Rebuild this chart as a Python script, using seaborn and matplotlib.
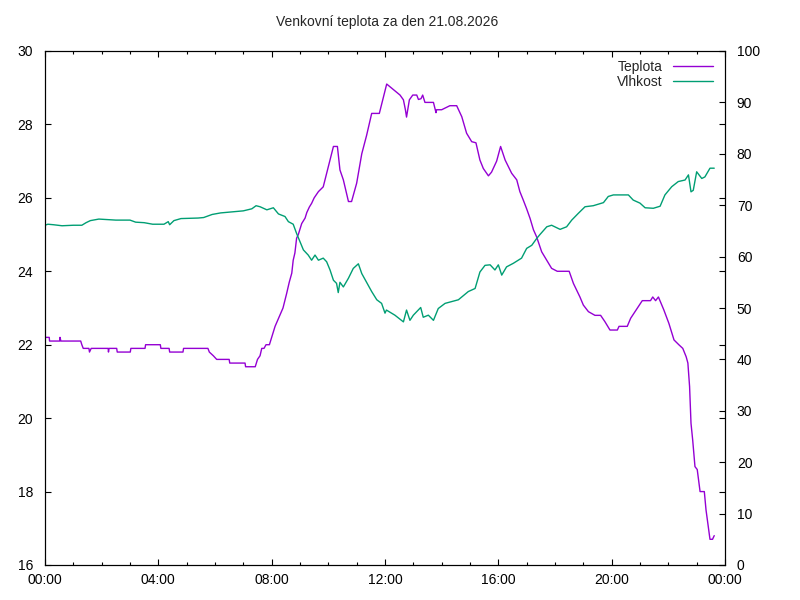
import matplotlib
matplotlib.use("Agg")
import matplotlib.pyplot as plt
from matplotlib.ticker import MultipleLocator, FixedLocator
import seaborn as sns
import pandas as pd

title = "Venkovní teplota za den 21.08.2026"
x_tick_hours = [0, 4, 8, 12, 16, 20, 24]
x_tick_labels = ["00:00", "04:00", "08:00", "12:00", "16:00", "20:00", "00:00"]

temp_hours = [0.0, 0.15, 0.16, 0.52, 0.53, 0.56, 1.26, 1.30, 1.35, 1.55, 1.57, 1.63,
              2.23, 2.24, 2.26, 2.53, 2.55, 3.01, 3.03, 3.53, 3.55, 4.07, 4.09, 4.38,
              4.40, 4.87, 4.89, 5.75, 5.80, 5.94, 6.06, 6.50, 6.52, 7.06, 7.08, 7.42,
              7.50, 7.59, 7.65, 7.73, 7.80, 7.92, 8.00, 8.12, 8.29, 8.40, 8.53, 8.62,
              8.71, 8.76, 8.82, 8.88, 8.94, 9.06, 9.18, 9.24, 9.33, 9.41, 9.50, 9.65,
              9.82, 10.00, 10.18, 10.32, 10.41, 10.53, 10.71, 10.82, 11.00, 11.18, 11.35,
              11.53, 11.80, 12.06, 12.53, 12.65, 12.72, 12.76, 12.86, 12.98, 13.12, 13.18,
              13.27, 13.33, 13.41, 13.71, 13.80, 13.82, 14.00, 14.29, 14.53, 14.71, 14.88,
              15.06, 15.21, 15.35, 15.47, 15.65, 15.76, 15.94, 16.08, 16.24, 16.47, 16.65,
              16.76, 16.88, 17.00, 17.12, 17.24, 17.35, 17.53, 17.71, 17.88, 18.08, 18.50,
              18.65, 18.88, 19.00, 19.18, 19.41, 19.61, 19.76, 19.94, 20.20, 20.26, 20.55,
              20.67, 20.90, 21.08, 21.37, 21.45, 21.55, 21.65, 21.84, 22.02, 22.20, 22.37,
              22.51, 22.63, 22.69, 22.75, 22.80, 22.86, 22.94, 23.02, 23.12, 23.27, 23.33,
              23.41, 23.47, 23.56, 23.62]
temp_values = [22.2, 22.2, 22.1, 22.1, 22.2, 22.1, 22.1, 22.0, 21.9, 21.9, 21.8, 21.9,
               21.9, 21.8, 21.9, 21.9, 21.8, 21.8, 21.9, 21.9, 22.0, 22.0, 21.9, 21.9,
               21.8, 21.8, 21.9, 21.9, 21.8, 21.7, 21.6, 21.6, 21.5, 21.5, 21.4, 21.4,
               21.6, 21.7, 21.9, 21.9, 22.0, 22.0, 22.2, 22.5, 22.8, 23.0, 23.4, 23.7,
               23.95, 24.3, 24.5, 24.9, 25.0, 25.3, 25.45, 25.6, 25.75, 25.85, 26.0, 26.17,
               26.3, 26.85, 27.4, 27.4, 26.76, 26.49, 25.9, 25.9, 26.4, 27.2, 27.7,
               28.3, 28.3, 29.1, 28.8, 28.67, 28.4, 28.2, 28.67, 28.8, 28.8, 28.68,
               28.7, 28.8, 28.6, 28.6, 28.32, 28.4, 28.4, 28.51, 28.51, 28.21, 27.76,
               27.53, 27.5, 27.03, 26.8, 26.6, 26.7, 27.0, 27.4, 27.03, 26.67, 26.49,
               26.17, 25.94, 25.7, 25.44, 25.13, 24.94, 24.53, 24.3, 24.08, 24.0, 24.0,
               23.67, 23.3, 23.08, 22.9, 22.8, 22.8, 22.63, 22.4, 22.4, 22.5, 22.5,
               22.72, 22.99, 23.2, 23.2, 23.3, 23.2, 23.3, 22.95, 22.58, 22.13, 22.0,
               21.9, 21.67, 21.5, 20.86, 19.86, 19.4, 18.68, 18.6, 18.0, 18.0, 17.5,
               17.04, 16.7, 16.7, 16.8]

hum_hours = [0.0, 0.1, 0.3, 0.6, 1.0, 1.3, 1.45, 1.6, 1.9, 2.2, 2.5, 3.0, 3.2, 3.5, 3.8,
             4.2, 4.35, 4.40, 4.55, 4.8, 5.4, 5.6, 5.9, 6.2, 6.6, 7.0, 7.3, 7.45, 7.59,
             7.83, 8.06, 8.24, 8.47, 8.59, 8.76, 8.88, 9.0, 9.12, 9.29, 9.41, 9.53, 9.65,
             9.82, 9.94, 10.06, 10.18, 10.29, 10.35, 10.41, 10.53, 10.71, 10.88, 11.06,
             11.18, 11.35, 11.53, 11.71, 11.88, 12.0, 12.05, 12.35, 12.65, 12.76, 12.88,
             13.0, 13.26, 13.35, 13.53, 13.71, 13.88, 14.12, 14.59, 14.94, 15.18, 15.35,
             15.53, 15.71, 15.88, 16.0, 16.12, 16.29, 16.53, 16.82, 17.0, 17.18, 17.35,
             17.47, 17.71, 17.88, 18.18, 18.41, 18.59, 18.82, 19.06, 19.35, 19.71, 19.88,
             20.06, 20.59, 20.76, 21.0, 21.18, 21.47, 21.71, 21.88, 22.12, 22.35, 22.59,
             22.71, 22.8, 22.88, 23.0, 23.18, 23.29, 23.47, 23.62]
hum_values = [66.1, 66.3, 66.2, 66.0, 66.1, 66.1, 66.6, 67.0, 67.3, 67.2, 67.1, 67.1, 66.7,
              66.6, 66.3, 66.3, 66.8, 66.2, 67.0, 67.4, 67.5, 67.6, 68.2, 68.5, 68.7, 68.9,
              69.3, 69.9, 69.7, 69.1, 69.5, 68.3, 67.8, 66.8, 66.3, 64.5, 62.9, 61.3, 60.3,
              59.3, 60.3, 59.3, 59.7, 59.0, 57.4, 55.4, 54.8, 53.0, 55.0, 54.1, 55.8, 57.7,
              58.6, 56.7, 55.0, 53.2, 51.6, 50.9, 49.0, 49.6, 48.6, 47.3, 49.6, 47.6, 48.6,
              50.1, 48.2, 48.6, 47.6, 49.9, 50.9, 51.6, 53.2, 53.8, 57.0, 58.3, 58.4, 57.4,
              58.4, 56.4, 58.0, 58.7, 59.7, 61.6, 62.2, 63.5, 64.3, 65.8, 66.1, 65.3, 65.8,
              67.1, 68.4, 69.7, 69.9, 70.5, 71.7, 72.0, 72.0, 71.0, 70.4, 69.5, 69.4, 69.8,
              72.0, 73.6, 74.6, 74.9, 75.9, 72.6, 72.9, 76.5, 75.2, 75.5, 77.2, 77.2]

sns.set_theme(style="white")
plt.rcParams["font.family"] = ["Liberation Sans", "DejaVu Sans"]
plt.rcParams["font.size"] = 10

temp_df = pd.DataFrame({"hour": temp_hours, "Teplota": temp_values})
hum_df = pd.DataFrame({"hour": hum_hours, "Vlhkost": hum_values})

fig = plt.figure(figsize=(8, 6), dpi=100)
ax = fig.add_axes([45 / 800, 35 / 600, 680 / 800, 514 / 600])
ax2 = ax.twinx()

sns.lineplot(data=temp_df, x="hour", y="Teplota", ax=ax, color="#9400D3",
             linewidth=1.0, estimator=None, label="Teplota", legend=False)
sns.lineplot(data=hum_df, x="hour", y="Vlhkost", ax=ax2, color="#009E73",
             linewidth=1.0, estimator=None, label="Vlhkost", legend=False)

ax.set_xlim(0, 24)
ax.set_ylim(16, 30)
ax2.set_ylim(0, 100)
ax.set_xlabel("")
ax.set_ylabel("")
ax2.set_ylabel("")

ax.xaxis.set_major_locator(FixedLocator(x_tick_hours))
ax.set_xticklabels(x_tick_labels)
ax.xaxis.set_minor_locator(MultipleLocator(1))
ax.yaxis.set_major_locator(MultipleLocator(2))
ax2.yaxis.set_major_locator(MultipleLocator(10))

for a in (ax, ax2):
    for s in a.spines.values():
        s.set_color("black")
        s.set_linewidth(0.8)

ax.tick_params(axis="x", which="major", direction="in", top=True, bottom=True,
               length=4.3, width=0.8, color="black", pad=6, labelsize=10, labelcolor="black")
ax.tick_params(axis="x", which="minor", direction="in", top=True, bottom=True,
               length=2.2, width=0.8, color="black")
ax.tick_params(axis="y", which="major", direction="in", left=True, right=True,
               length=4.3, width=0.8, color="black", pad=8.5, labelsize=10, labelcolor="black")
ax2.tick_params(axis="y", which="major", direction="in", right=True, left=False,
                length=4.3, width=0.8, color="black", pad=8.5, labelsize=10, labelcolor="black")

fig.text(387 / 800, 1 - 22 / 600, title, ha="center", va="center", fontsize=10)

h1, l1 = ax.get_legend_handles_labels()
h2, l2 = ax2.get_legend_handles_labels()
ax2.legend(h1 + h2, l1 + l2, loc="upper right", bbox_to_anchor=(0.995, 0.999),
           frameon=False, markerfirst=False, handlelength=2.9, handletextpad=0.75,
           labelspacing=0.08, fontsize=10, borderaxespad=0.2)

fig.savefig("out.png", dpi=100)
